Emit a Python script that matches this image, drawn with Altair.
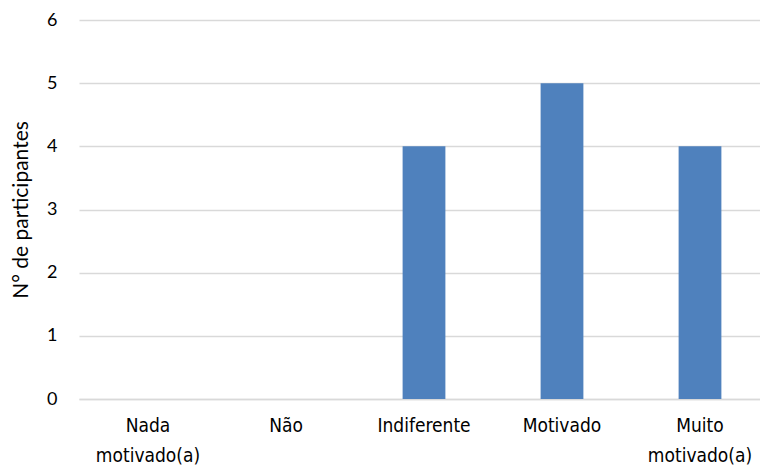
import altair as alt
import pandas as pd

categorias = ["Nada\nmotivado(a)", "Não", "Indiferente", "Motivado", "Muito\nmotivado(a)"]
participantes = [0, 0, 4, 5, 4]

df = pd.DataFrame({"categoria": categorias, "n": participantes})

chart = alt.Chart(df).mark_bar(color="#4F81BD").encode(
    x=alt.X("categoria:N", sort=categorias,
            scale=alt.Scale(range=[0, 690], paddingInner=0.69, paddingOuter=0.345),
            axis=alt.Axis(title=None, labelAngle=0, ticks=False, domain=True,
                          domainColor="#D9D9D9", domainWidth=1.3,
                          labelFont="Liberation Sans Narrow, DejaVu Sans Condensed, sans-serif",
                          labelFontSize=19,
                          labelColor="#000000", labelPadding=17, labelLineHeight=30,
                          labelExpr="split(datum.label, '\\n')", labelBaseline="top")),
    y=alt.Y("n:Q", scale=alt.Scale(domain=[0, 6], nice=False),
            axis=alt.Axis(title="N° de participantes", values=[0, 1, 2, 3, 4, 5, 6],
                          ticks=False, domain=False, grid=True, gridColor="#D9D9D9",
                          gridWidth=1.3, labelFont="Lato", labelFontSize=18,
                          labelColor="#000000", labelPadding=22,
                          titleFont="Lato", titleFontSize=21, titleFontWeight="normal",
                          titleColor="#000000", titlePadding=15)),
).properties(
    width=681, height=379,
    autosize=alt.AutoSizeParams(type="none"),
    padding={"left": 79, "top": 20, "right": 0, "bottom": 71},
).configure_view(stroke=None)

chart.save("out.html", embed_options={"renderer": "svg", "actions": False})
